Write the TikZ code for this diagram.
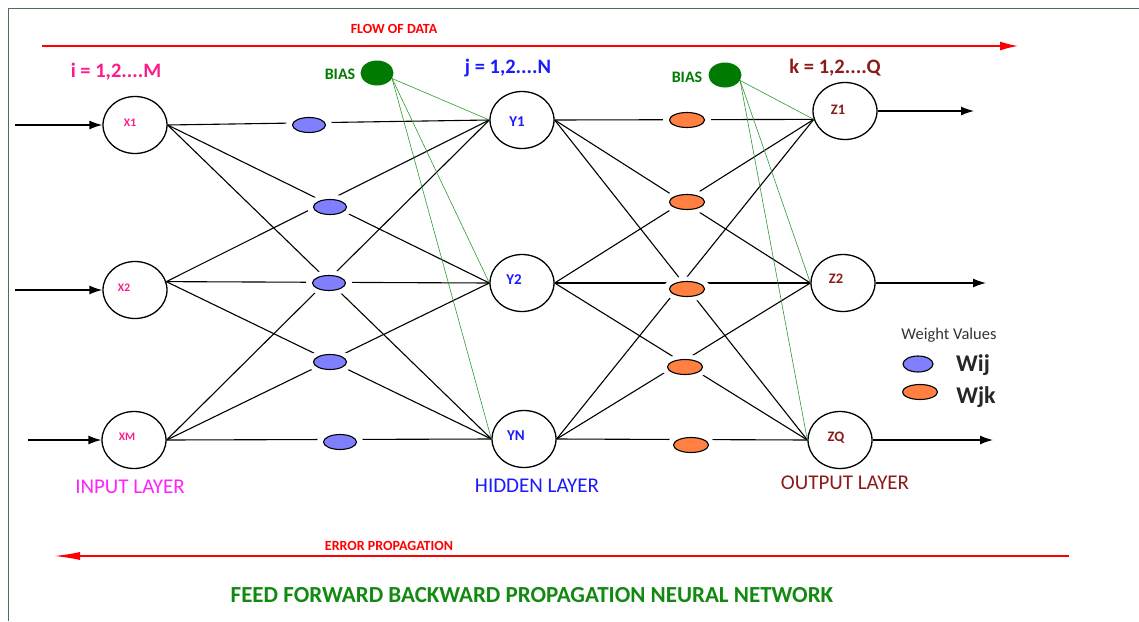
\documentclass[tikz,border=0pt]{standalone}
\usepackage{fontspec}
\setmainfont{Carlito}
\usetikzlibrary{arrows.meta,shapes.geometric}

\definecolor{framegreen}{HTML}{4F6F4F}
\definecolor{flowred}{HTML}{FF0000}
\definecolor{biasgreen}{HTML}{007A00}
\definecolor{linkgreen}{HTML}{2E9A2E}
\definecolor{wijblue}{HTML}{8080FF}
\definecolor{wjkorange}{HTML}{FF8040}
\definecolor{idxpink}{HTML}{FF1A8C}
\definecolor{inmagenta}{HTML}{FF22FF}
\definecolor{hidblue}{HTML}{1A1AFF}
\definecolor{outred}{HTML}{8B1A1A}
\definecolor{titlegreen}{HTML}{128A12}
\definecolor{legendgray}{HTML}{333333}

\begin{document}
\begin{tikzpicture}[x=1pt,y=-1pt,
  neuron/.style={draw=black, ellipse, line width=1.3pt, fill=white,
    minimum width=64pt, minimum height=57pt, inner sep=0pt},
  link/.style={draw=black, line width=1.1pt},
  biaslink/.style={draw=linkgreen, line width=0.6pt},
  inarrow/.style={draw=black, line width=1.3pt, -{Latex[length=13pt,width=9pt]}},
  weight/.style={ellipse, draw=black, line width=1.1pt, inner sep=0pt,
    minimum width=33pt, minimum height=15pt},
  wij/.style={weight, fill=wijblue},
  wjk/.style={weight, fill=wjkorange, minimum width=35pt},
  halo/.style={fill=white},
  biasnode/.style={ellipse, fill=biasgreen, minimum width=33pt, minimum height=25pt, inner sep=0pt},
  biastxt/.style={text=biasgreen, font=\fontsize{16}{18}\selectfont\bfseries},
  idxtxt/.style={font=\fontsize{20.5}{23}\selectfont\bfseries},
  layertxt/.style={font=\fontsize{21}{24}\selectfont},
  redtxt/.style={text=flowred, font=\fontsize{14}{16}\selectfont\bfseries},
  xlbl/.style={text=idxpink, font=\fontsize{11.5}{13}\selectfont\bfseries},
  ylbl/.style={text=hidblue, font=\fontsize{15}{17}\selectfont\bfseries},
  zlbl/.style={text=outred, font=\fontsize{14.5}{17}\selectfont\bfseries},
]
\useasboundingbox (0,0) rectangle (1139,621);

% frame (top and left edges)
\draw[framegreen, line width=1.3pt] (1139,8.5) -- (8.5,8.5) -- (8.5,621);

% data flow and error propagation
\node[redtxt] (flowlbl) at (394,29) {FLOW OF DATA};
\coordinate (flowS) at (42,46);
\coordinate (flowE) at (1018,46);
\draw[flowred, line width=1.4pt, -{Latex[length=18pt,width=9pt]}] (flowS) -- (flowE);

\node[redtxt] (errlbl) at (389,546) {ERROR PROPAGATION};
\coordinate (errS) at (1069,556);
\coordinate (errE) at (54,556);
\draw[flowred, line width=1.4pt, -{Latex[length=26pt,width=8pt]}] (errS) -- (errE);

% neurons
\node[neuron] (X1) at (135,125) {};
\node[neuron] (X2) at (135,290) {};
\node[neuron] (XM) at (134,440) {};
\node[neuron] (Y1) at (522,120) {};
\node[neuron] (Y2) at (522,283) {};
\node[neuron] (YN) at (524,439) {};
\node[neuron] (Z1) at (845,111) {};
\node[neuron] (Z2) at (843,283) {};
\node[neuron] (ZQ) at (840,440) {};

% neuron labels
\node[xlbl] (X1t) at (130,123) {X1};
\node[xlbl] (X2t) at (124,288) {X2};
\node[xlbl] (XMt) at (127,437) {XM};
\node[ylbl] (Y1t) at (517,122) {Y1};
\node[ylbl] (Y2t) at (514,280) {Y2};
\node[ylbl] (YNt) at (516,436) {YN};
\node[zlbl] (Z1t) at (838,110) {Z1};
\node[zlbl] (Z2t) at (836,279) {Z2};
\node[zlbl] (ZQt) at (836,438) {ZQ};

% external inputs and outputs
\coordinate (in1) at (15,125);
\coordinate (in2) at (15,290);
\coordinate (in3) at (28,440);
\coordinate (out1) at (974,111);
\coordinate (out2) at (986,283);
\coordinate (out3) at (993,440);
\draw[inarrow] (in1) -- (X1.west);
\draw[inarrow] (in2) -- (X2.west);
\draw[inarrow] (in3) -- (XM.west);
\draw[inarrow] (Z1.east) -- (out1);
\draw[inarrow] (Z2.east) -- (out2);
\draw[inarrow] (ZQ.east) -- (out3);

% fully connected layers (each neuron's links meet in one point)
\foreach \a/\aa in {X1/east,X2/15,XM/east}
  \foreach \b in {Y1,Y2,YN}
    \draw[link] (\a.\aa) -- (\b.west);
\foreach \a in {Y1,Y2,YN}
  \foreach \b/\bb in {Z1/195,Z2/west,ZQ/west}
    \draw[link] (\a.east) -- (\b.\bb);

% bias units
\node[biasnode] (B1) at (377,73) {};
\node[biastxt] (B1t) at (340,74) {BIAS};
\node[biasnode] (B2) at (725,75) {};
\node[biastxt] (B2t) at (687,77) {BIAS};
\foreach \b in {Y1,Y2,YN}
  \draw[biaslink] (B1.-20) -- (\b.west);
\foreach \b/\bb in {Z1/195,Z2/west,ZQ/west}
  \draw[biaslink] (B2.-20) -- (\b.\bb);

% white gaps around the weights, so the links stop short of them
\foreach \p in {(309,125),(330,207),(329,283),(330,362),(340,442)}
  \fill[halo] \p ellipse [x radius=23pt, y radius=12.5pt];
\foreach \p in {(687,120),(687,202),(687,289),(685,367),(691,445)}
  \fill[halo] \p ellipse [x radius=24pt, y radius=12.5pt];

% weights between input and hidden layer
\node[wij] (w1) at (309,125) {};
\node[wij] (w2) at (330,207) {};
\node[wij] (w3) at (329,283) {};
\node[wij] (w4) at (330,362) {};
\node[wij] (w5) at (340,442) {};

% weights between hidden and output layer
\node[wjk] (v1) at (687,120) {};
\node[wjk] (v2) at (687,202) {};
\node[wjk] (v3) at (687,289) {};
\node[wjk] (v4) at (685,367) {};
\node[wjk] (v5) at (691,445) {};

% index ranges
\node[idxtxt, text=idxpink] (irange) at (116,72) {i = 1,2....M};
\node[idxtxt, text=hidblue] (jrange) at (508,68) {j = 1,2....N};
\node[idxtxt, text=outred] (krange) at (835,68) {k = 1,2....Q};

% layer names
\node[layertxt, text=inmagenta] (inlayer) at (130,487) {INPUT LAYER};
\node[layertxt, text=hidblue] (hidlayer) at (537,486) {HIDDEN LAYER};
\node[layertxt, text=outred] (outlayer) at (845,483) {OUTPUT LAYER};

% legend
\node[text=legendgray, font=\fontsize{16.5}{19}\selectfont] (legtitle) at (949,335) {Weight Values};
\node[weight, fill=wijblue, minimum width=30pt, minimum height=16pt] (legwij) at (918,364) {};
\node[font=\fontsize{24}{27}\selectfont\bfseries, text=black!85] (legwijt) at (973,365) {Wij};
\node[weight, fill=wjkorange, minimum width=35pt, minimum height=15pt] (legwjk) at (920,392) {};
\node[font=\fontsize{24}{27}\selectfont\bfseries, text=black!85] (legwjkt) at (976,397) {Wjk};

% title
\node[text=titlegreen, font=\fontsize{23}{27}\selectfont\bfseries] (title) at (532,595) {FEED FORWARD BACKWARD PROPAGATION NEURAL NETWORK};
\end{tikzpicture}
\end{document}
